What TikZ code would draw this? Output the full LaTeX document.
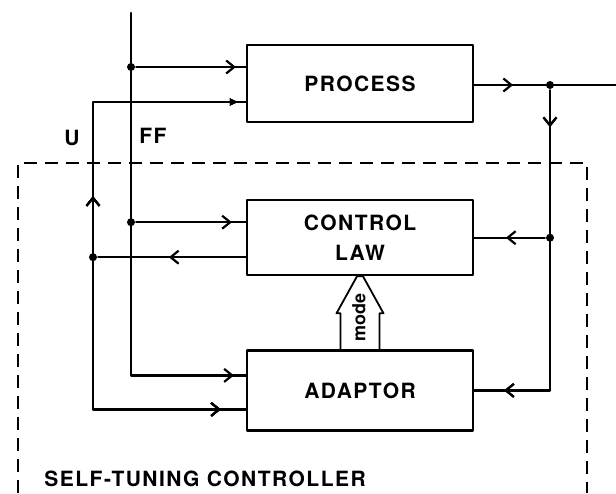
\documentclass[tikz,border=0pt]{standalone}
\usepackage{fontspec}
\setsansfont{TeX Gyre Heros}
\usetikzlibrary{arrows.meta,positioning,calc,decorations.markings}

\begin{document}
\begin{tikzpicture}[
  x=1pt, y=-1pt,
  line width=2.2pt, line join=round, line cap=round,
  font=\sffamily\bfseries\fontsize{21}{30}\selectfont\addfontfeature{LetterSpace=7},
  block/.style={draw, minimum width=226pt, inner sep=0pt, align=center},
  dot/.style={circle, fill, inner sep=0pt, minimum size=8pt},
  frame/.style={line width=2.2pt, line cap=butt, dash pattern=on 13pt off 8pt},
  tipat/.style={postaction={decorate}, decoration={markings,
    mark=at position #1 with {\arrow{Straight Barb[length=8pt,width=13pt]}}}},
  revat/.style={postaction={decorate}, decoration={markings,
    mark=at position #1 with {\arrowreversed{Straight Barb[length=8pt,width=13pt]}}}},
  frevat/.style={postaction={decorate}, decoration={markings,
    mark=at position #1 with {\arrowreversed{Latex[length=9pt,width=8pt]}}}}
]
\useasboundingbox (0,0) rectangle (616,493);

% blocks
\node[block, minimum height=77pt] (proc) at (360,83.5) {PROCESS};
\node[block, minimum height=75pt, below=76pt of proc] (law) {CONTROL\\LAW};
\node[block, minimum height=80pt, below=73pt of law] (adp) {ADAPTOR};

% frame of the controller
\draw[frame] (18,493) -- (18,163) -- (587,163) -- (587,493);
\node[anchor=west] (stc) at (40,479) {SELF-TUNING CONTROLLER};

% feedforward signal
\coordinate (fftop) at (131,13);
\coordinate (procff) at ($(proc.west)+(0,-16.5)$);
\coordinate (lawff) at ($(law.west)+(0,-15.5)$);
\coordinate (adpff) at ($(adp.west)+(0,-15)$);
\draw[tipat=-12pt] (fftop) |- (adpff);
\node[dot] (ffp) at (fftop |- procff) {};
\node[dot] (ffl) at (fftop |- lawff) {};
\draw[tipat=-10pt] (ffp) -- (procff);
\draw[tipat=-14pt] (ffl) -- (lawff);
\node (fflab) at (153,136) {FF};

% control signal u
\coordinate (ux) at (93,0);
\coordinate (procu) at ($(proc.west)+(0,18.5)$);
\coordinate (lawu) at ($(law.west)+(0,19.5)$);
\coordinate (adpu) at ($(adp.west)+(0,19)$);
\draw[frevat=7pt, revat=247pt, tipat=-25pt] (procu) -| (ux |- adpu) -- (adpu);
\node[dot] (ul) at (ux |- lawu) {};
\draw[tipat=77pt] (lawu) -- (ul);
\node (ulab) at (72,138) {U};

% process output y
\coordinate (procy) at ($(proc.east)+(0,1.5)$);
\coordinate (yx) at (550,0);
\coordinate (yend) at (616,0);
\draw[tipat=39pt] (procy) -- (yend |- procy);
\node[dot] (yj) at (yx |- procy) {};
\node[dot] (yl) at (yx |- law.east) {};
\draw[tipat=37pt, tipat=-30pt] (yj) |- (adp.east);
\draw[tipat=39pt] (yl) -- (law.east);

% mode arrow
\draw[line width=1.8pt] ($(adp.north)+(-19.5,0)$) -- ++(0,-36) -- ++(-4,0)
  -- ($(law.south)+(-3,0)$) -- ($(law.south)+(3,0)$)
  -- ($(adp.north)+(23.5,-36)$) -- ++(-4,0) -- ($(adp.north)+(19.5,0)$);
\node[rotate=90, inner sep=0pt, font=\sffamily\bfseries\fontsize{18}{18}\selectfont] (mode)
  at ($(law.south)!0.57!(adp.north)+(-1,0)$) {mode};
\end{tikzpicture}
\end{document}
